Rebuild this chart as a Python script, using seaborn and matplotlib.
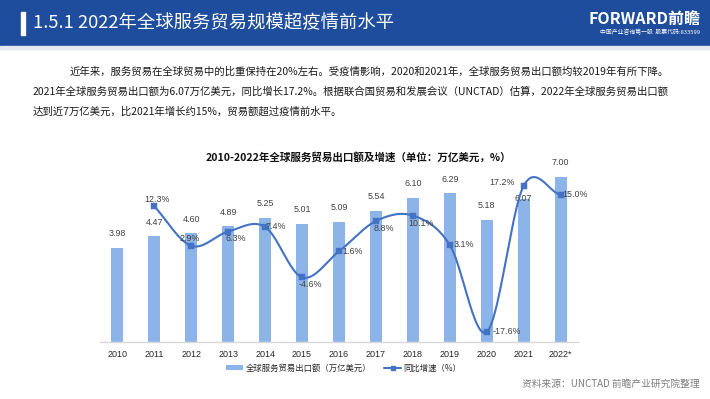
import numpy as np
import matplotlib
matplotlib.use("Agg")
import matplotlib.pyplot as plt
import seaborn as sns
import pandas as pd
from matplotlib.patches import Rectangle, Patch
from matplotlib.lines import Line2D

# ---------------- data ----------------
years = ["2010", "2011", "2012", "2013", "2014", "2015", "2016",
         "2017", "2018", "2019", "2020", "2021", "2022*"]
exports = [3.98, 4.47, 4.60, 4.89, 5.25, 5.01, 5.09, 5.54, 6.10, 6.29, 5.18, 6.07, 7.00]
growth_years = years[1:]
growth = [12.3, 2.9, 6.3, 7.4, -4.6, 1.6, 8.8, 10.1, 3.1, -17.6, 17.2, 15.0]

header_title = "1.5.1 2022年全球服务贸易规模超疫情前水平"
chart_title = "2010-2022年全球服务贸易出口额及增速（单位：万亿美元，%）"
para_lines = [
    "近年来，服务贸易在全球贸易中的比重保持在20%左右。受疫情影响，2020和2021年，全球服务贸易出口额均较2019年有所下降。",
    "2021年全球服务贸易出口额为6.07万亿美元，同比增长17.2%。根据联合国贸易和发展会议（UNCTAD）估算，2022年全球服务贸易出口额",
    "达到近7万亿美元，比2021年增长约15%，贸易额超过疫情前水平。",
]
legend_labels = ["全球服务贸易出口额（万亿美元）", "同比增速（%）"]
source_text = "资料来源：UNCTAD 前瞻产业研究院整理"

BAR_C = "#8DB4E8"
LINE_C = "#4472C4"
HEAD_C = "#1E4D9E"
TXT_C = "#404040"

sns.set_theme(style="white")
plt.rcParams['font.family'] = ['Noto Sans CJK SC', 'DejaVu Sans']
NUM_FONT = ['Liberation Sans', 'DejaVu Sans']

W, H = 710, 399
fig = plt.figure(figsize=(W / 100, H / 100), dpi=100)
fig.patch.set_facecolor("white")

def fx(px):
    return px / W

def fy(py):
    return 1 - py / H

# ---------------- header ----------------
fig.patches.append(Rectangle((0, fy(46)), 1, 46 / H, transform=fig.transFigure,
                             color=HEAD_C, zorder=0))
fig.patches.append(Rectangle((0, fy(49)), 1, 3 / H, transform=fig.transFigure,
                             color="#E6E9EF", zorder=0))
fig.patches.append(Rectangle((fx(21), fy(35)), 4 / W, 23 / H, transform=fig.transFigure,
                             color="white", zorder=1))
fig.text(fx(33), fy(23.5), header_title, color="white", fontsize=13.2, va="center", ha="left")
fig.text(fx(700), fy(19), "FORWARD前瞻", color="white", fontsize=11.5, va="center", ha="right",
         fontweight="bold")
fig.text(fx(700), fy(32.5), "中国产业咨询第一股  股票代码:833599", color="white", fontsize=4.2,
         va="center", ha="right")

# ---------------- paragraph ----------------
fig.text(fx(70), fy(72), para_lines[0], fontsize=7.5, color="#1a1a1a", va="center", ha="left")
fig.text(fx(33), fy(92), para_lines[1], fontsize=7.5, color="#1a1a1a", va="center", ha="left")
fig.text(fx(33), fy(111), para_lines[2], fontsize=7.5, color="#1a1a1a", va="center", ha="left")

# ---------------- chart ----------------
fig.text(fx(358), fy(157), chart_title, fontsize=7.6, fontweight="bold", color="#111111",
         va="center", ha="center")

ax = fig.add_axes([fx(100), fy(342), 478 / W, 189 / H])
df = pd.DataFrame({"year": years, "export": exports})
sns.barplot(data=df, x="year", y="export", color=BAR_C, saturation=1, width=0.32,
            linewidth=0, edgecolor="none", ax=ax, zorder=2)
ax.set_ylim(0, 8)
ax.set_xlim(-0.47, 12.47)
ax.set_xlabel("")
ax.set_ylabel("")
ax.set_yticks([])
for s in ["top", "left", "right"]:
    ax.spines[s].set_visible(False)
ax.spines["bottom"].set_color("#D9D9D9")
ax.spines["bottom"].set_linewidth(1.0)
ax.tick_params(axis="x", length=0, pad=6, labelsize=6.5, labelcolor="#262626")
for lab in ax.get_xticklabels():
    lab.set_family(NUM_FONT)
ax.patch.set_alpha(0)

for i, v in enumerate(exports):
    off = 7 if years[i] != "2021" else 0
    ax.annotate(f"{v:.2f}", (i, v), xytext=(0, off), textcoords="offset points",
                ha="center", va="bottom" if off else "center", fontsize=6.4,
                color=TXT_C, family=NUM_FONT, zorder=5)

ax2 = ax.twinx()
ax2.set_ylim(-20, 25)
ax2.set_yticks([])
for s in ax2.spines.values():
    s.set_visible(False)
ax2.patch.set_alpha(0)

gx = np.array([years.index(y) for y in growth_years], dtype=float)
gy = np.array(growth, dtype=float)

def catmull_rom(x, y, n=40):
    P = np.column_stack([x, y])
    P = np.vstack([2 * P[0] - P[1], P, 2 * P[-1] - P[-2]])
    segs = []
    t = np.linspace(0, 1, n)[:, None]
    for i in range(1, len(P) - 2):
        p0, p1, p2, p3 = P[i - 1], P[i], P[i + 1], P[i + 2]
        seg = 0.5 * (2 * p1 + (-p0 + p2) * t + (2 * p0 - 5 * p1 + 4 * p2 - p3) * t ** 2
                     + (-p0 + 3 * p1 - 3 * p2 + p3) * t ** 3)
        segs.append(seg if i == 1 else seg[1:])
    return np.vstack(segs)

curve = catmull_rom(gx, gy)
ax2.plot(curve[:, 0], curve[:, 1], color=LINE_C, lw=1.5, zorder=3, solid_capstyle="round")
sns.scatterplot(x=gx, y=gy, marker="s", s=14, color=LINE_C, edgecolor=LINE_C, ax=ax2, zorder=4)

# label offsets in pixels (dx, dy) for growth labels
offsets = [(3, 7), (-2, 7), (8, -7), (11, 0), (8, -7), (14, 0), (8, -7), (8, -8), (14, 0),
           (20, 0), (-22, 3), (14, 0)]
for (x, y), (dx, dy) in zip(zip(gx, gy), offsets):
    ax2.annotate(f"{y:.1f}%", (x, y), xytext=(dx * 0.72, dy * 0.72), textcoords="offset points",
                 ha="center", va="center", fontsize=6.4, color=TXT_C, family=NUM_FONT, zorder=5)

handles = [Patch(facecolor=BAR_C, edgecolor="none"),
           Line2D([0], [0], color=LINE_C, lw=1.5, marker="s", markersize=3.2)]
fig.legend(handles, legend_labels, loc="center", bbox_to_anchor=(fx(344), fy(368)), ncol=2,
           frameon=False, fontsize=6.0, handlelength=2.0, handleheight=0.6, columnspacing=1.6,
           handletextpad=0.3)

fig.text(fx(700), fy(384), source_text, fontsize=7, color="#7F7F7F", ha="right", va="center")

fig.savefig("out.png", dpi=100)
